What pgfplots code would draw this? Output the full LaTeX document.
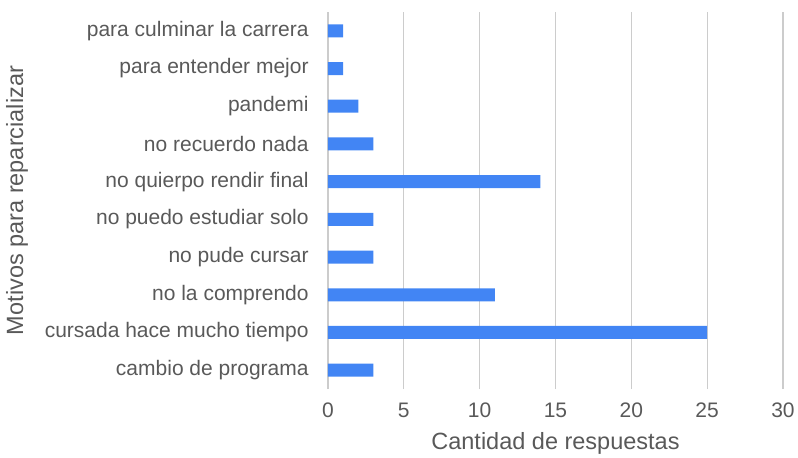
\documentclass[border=0pt]{standalone}
\usepackage{fontspec}
\setmainfont{Liberation Sans}
\usepackage{pgfplots}
\pgfplotsset{compat=1.18}
\definecolor{barblue}{HTML}{4285F4}
\definecolor{txtgray}{HTML}{595959}
\definecolor{gridgray}{HTML}{CCCCCC}
\begin{document}
\begin{tikzpicture}
\useasboundingbox (-164pt,-34pt) rectangle (235pt,194.5pt);
\begin{axis}[
  at={(0,0)}, anchor=south west,
  scale only axis, width=227.5pt, height=188.5pt,
  xbar, bar width=6.5pt,
  xmin=0, xmax=30, ymin=-0.5, ymax=9.5,
  xtick={0,5,10,15,20,25,30},
  ytick={0,...,9},
  yticklabels={cambio de programa, cursada hace mucho tiempo\ , no la comprendo, no pude cursar\ , no puedo estudiar solo\ , no quierpo rendir final\ , no recuerdo nada, pandemi, para entender mejor, para culminar la carrera},
  axis line style={draw=none},
  major tick length=0pt,
  xmajorgrids, grid style={gridgray, line width=0.6pt},
  /pgf/number format/assume math mode=true,
  tick label style={font=\fontsize{10.5}{12}\selectfont, text=txtgray},
  yticklabel style={inner sep=0pt, xshift=-9.5pt},
  xticklabel style={inner sep=0pt, anchor=center, yshift=-10.5pt},
  xlabel={Cantidad de respuestas},
  ylabel={Motivos para reparcializar},
  every axis x label/.style={at={(axis description cs:0.5,-0.1432)}, anchor=center, font=\fontsize{11.75}{13}\selectfont, text=txtgray},
  every axis y label/.style={at={(axis description cs:-0.6835,0.5)}, rotate=90, anchor=center, font=\fontsize{11.75}{13}\selectfont, text=txtgray},
]
\addplot[fill=barblue, draw=none] coordinates {
 (3,0) (25,1) (11,2) (3,3) (3,4) (14,5) (3,6) (2,7) (1,8) (1,9)
};
\end{axis}
\end{tikzpicture}
\end{document}
